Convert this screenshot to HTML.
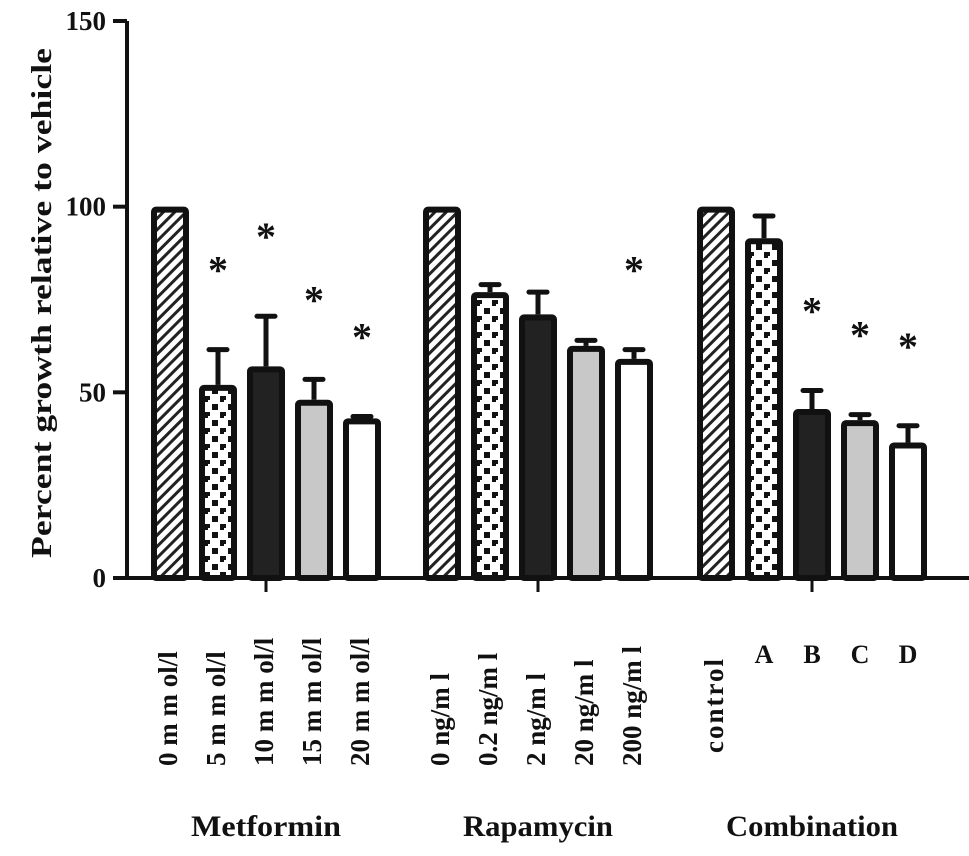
<!DOCTYPE html>
<html><head><meta charset="utf-8"><style>
body{margin:0;background:#fff}
svg{display:block}
text{font-family:"Liberation Serif",serif;font-weight:bold;fill:#111}
</style></head><body>
<svg id="chart" width="969" height="856" viewBox="0 0 969 856">
<defs>
<pattern id="hatch" width="8" height="8" patternUnits="userSpaceOnUse" patternTransform="rotate(45)">
<rect width="8" height="8" fill="#fff"/><rect width="3" height="8" fill="#222"/></pattern>
<pattern id="check" width="16" height="16" patternUnits="userSpaceOnUse">
<rect width="16" height="16" fill="#fff"/><rect x="4" y="4" width="6" height="6" fill="#111"/><rect x="12" y="12" width="6" height="6" fill="#111"/><rect x="-4" y="12" width="6" height="6" fill="#111"/><rect x="12" y="-4" width="6" height="6" fill="#111"/></pattern>
</defs>
<g id="plot"></g>
</svg>
<script>
const groups = ["Metformin","Rapamycin","Combination"];
const labels = [["0 m m ol/l","5 m m ol/l","10 m m ol/l","15 m m ol/l","20 m m ol/l"],["0 ng/m l","0.2 ng/m l","2 ng/m l","20 ng/m l","200 ng/m l"],["control","A","B","C","D"]];
const values = [[100,52,57,48,43],[100,77,71,62.5,59],[100,91.5,45.5,42.5,36.5]];
const errors = [[0,9.5,13.5,5.5,0.5],[0,2,6,1.5,2.5],[0,6,5,1.5,4.5]];
const signif = [[false,true,true,true,true],[false,false,false,false,true],[false,false,true,true,true]];
const yTicks = [0,50,100,150];

const NS="http://www.w3.org/2000/svg";
const g=document.getElementById('plot');
const y0=578, y150=21;
const y=v=>y0-(y0-y150)*v/150;
const groupStart=[151,423,697], pitch=48, bw=38;
const fills=["url(#hatch)","url(#check)","#222","#c8c8c8","#fff"];
function el(t,a,p){const e=document.createElementNS(NS,t);for(const k in a)e.setAttribute(k,a[k]);(p||g).appendChild(e);return e;}
let ax=el('line',{x1:127,y1:y150,x2:127,y2:y0+2,stroke:'#111','stroke-width':4});


yTicks.forEach(t=>{
  const tk=el('line',{x1:113,y1:y(t),x2:127,y2:y(t),stroke:'#111','stroke-width':4});
  
  
  const tx=el('text',{x:106,y:y(t)+9,'text-anchor':'end','font-size':27});
  tx.textContent=t;
  
  
});
let xa=el('line',{x1:125,y1:y0,x2:969,y2:y0,stroke:'#111','stroke-width':4});


const yt=el('text',{transform:'translate(51,303) rotate(-90)','text-anchor':'middle','font-size':29,textLength:510,lengthAdjust:'spacingAndGlyphs'});
yt.textContent='Percent growth relative to vehicle';



groups.forEach((gn,gi)=>{
  const gs=groupStart[gi];
  const cx=gs+2*pitch+bw/2;
  const tk=el('line',{x1:cx,y1:y0,x2:cx,y2:y0+14,stroke:'#111','stroke-width':3});
  
  
  const gl=el('text',{x:cx,y:836,'text-anchor':'middle','font-size':30,textLength:[150,150,172][gi],lengthAdjust:'spacingAndGlyphs'});
  gl.textContent=gn;
  
  
  values[gi].forEach((v,i)=>{
    const x=gs+i*pitch, bc=x+bw/2;
    const e=errors[gi][i];
    if(e>0){
      const el1=el('line',{x1:bc,y1:y(v),x2:bc,y2:y(v+e),stroke:'#111','stroke-width':5});
      
      
      const c=el('line',{x1:bc-9,y1:y(v+e),x2:bc+9,y2:y(v+e),stroke:'#111','stroke-width':5,'stroke-linecap':'round'});
      
      
    }
    const r=el('rect',{x:x+3,y:y(v)+3,width:bw-6,height:y0-y(v)-3,fill:fills[i],stroke:'#111','stroke-width':6,rx:2});
    
    
    if(signif[gi][i]){
      const s=el('text',{x:bc,y:y(v+e)-66,'text-anchor':'middle','font-size':40,'font-weight':'normal'});
      s.textContent='*';
      
      
    }
    const lab=labels[gi][i];
    let t;
    if(gi===2&&i>0){
      t=el('text',{x:bc,y:663,'text-anchor':'middle','font-size':26});
    } else {
      t=el('text',{transform:`translate(${bc+7},${gi===2?753:766}) rotate(-90)`,'font-size':27,'letter-spacing':gi===2?2:0});
    }
    t.textContent=lab;
    
    
  });
});
</script>
</body></html>
